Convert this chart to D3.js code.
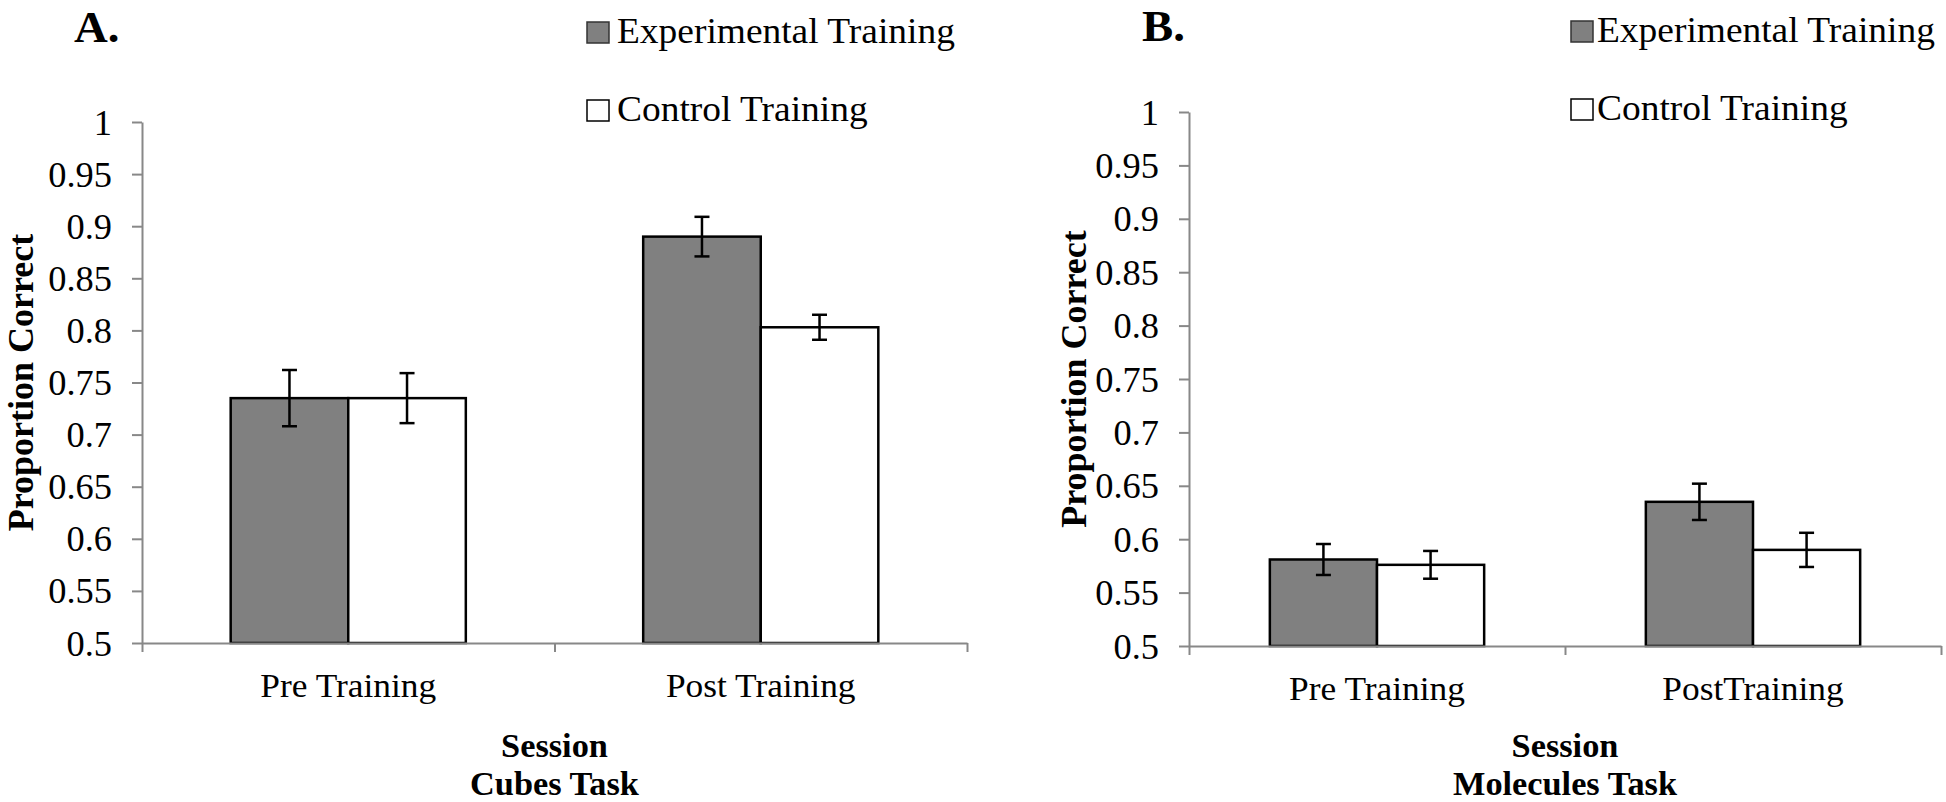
<!DOCTYPE html>
<html><head><meta charset="utf-8">
<script src="https://cdn.jsdelivr.net/npm/d3@7"></script>
<style>
body{margin:0;background:#fff}
text{font-family:"Liberation Serif","Times New Roman",serif;fill:#000}
</style>
</head><body>
<svg id="c" width="1946" height="802"></svg>
<script>
// ---------- data ----------
const sessionsA = ["Pre Training", "Post Training"];
const sessionsB = ["Pre Training", "PostTraining"];
const seriesNames = ["Experimental Training", "Control Training"];
const cubesExp = [0.735, 0.890];
const cubesCtrl = [0.735, 0.803];
const cubesExpErr = [0.027, 0.019];
const cubesCtrlErr = [0.024, 0.012];
const molExp = [0.581, 0.635];
const molCtrl = [0.576, 0.590];
const molExpErr = [0.0145, 0.017];
const molCtrlErr = [0.013, 0.016];
const yTickValues = [0.5, 0.55, 0.6, 0.65, 0.7, 0.75, 0.8, 0.85, 0.9, 0.95, 1];
const yTickLabels = ["0.5", "0.55", "0.6", "0.65", "0.7", "0.75", "0.8", "0.85", "0.9", "0.95", "1"];
const panelLetters = ["A.", "B."];
const xTitle = "Session";
const taskNames = ["Cubes Task", "Molecules Task"];
const yTitle = "Proportion Correct";
const seriesFill = ["#808080", "#ffffff"];

// ---------- layout ----------
const SX = 1.04;
const panels = [
  {cats: sessionsA, exp: cubesExp, ctrl: cubesCtrl, expErr: cubesExpErr, ctrlErr: cubesCtrlErr,
   letter: panelLetters[0], task: taskNames[0],
   x0: 142, x1: 967, yTop: 122, yBottom: 643, letterX: 74, letterY: 42,
   yTitleX: 33, legX: 587, legTextX: 617, legY: [43, 121]},
  {cats: sessionsB, exp: molExp, ctrl: molCtrl, expErr: molExpErr, ctrlErr: molCtrlErr,
   letter: panelLetters[1], task: taskNames[1],
   x0: 1189, x1: 1941, yTop: 112, yBottom: 646, letterX: 1142, letterY: 41,
   yTitleX: 1086, legX: 1571, legTextX: 1597, legY: [42, 120]}
];

const svg = d3.select("#c");

function stext(g, x, y, str, size, weight, anchor) {
  return g.append("text")
    .attr("transform", `translate(${x},${y}) scale(${SX},1)`)
    .attr("text-anchor", anchor || "start")
    .style("font-size", size + "px")
    .style("font-weight", weight || "normal")
    .text(str);
}

panels.forEach(p => {
  const g = svg.append("g");
  const y = d3.scaleLinear().domain([0.5, 1]).range([p.yBottom, p.yTop]);
  const x = d3.scaleBand().domain(p.cats).range([p.x0, p.x1]).paddingInner(0.43).paddingOuter(0.215);
  const xs = d3.scaleBand().domain([0, 1]).range([0, x.bandwidth()]);
  const xb = d3.scaleLinear().domain([0, p.cats.length]).range([p.x0, p.x1]);

  // bars
  const rows = [];
  p.cats.forEach((c, i) => {
    rows.push({c, s: 0, v: p.exp[i], e: p.expErr[i]});
    rows.push({c, s: 1, v: p.ctrl[i], e: p.ctrlErr[i]});
  });
  g.selectAll("rect.bar").data(rows).join("rect")
    .attr("class", "bar")
    .attr("x", d => x(d.c) + xs(d.s))
    .attr("y", d => y(d.v))
    .attr("width", xs.bandwidth())
    .attr("height", d => y(0.5) - y(d.v))
    .attr("fill", d => seriesFill[d.s])
    .attr("stroke", "#000")
    .attr("stroke-width", 2.5);

  // x axis (boundary ticks)
  const gxb = g.append("g").attr("transform", `translate(0,${p.yBottom})`)
    .call(d3.axisBottom(xb).tickValues(d3.range(p.cats.length + 1)).tickFormat("").tickSize(9).tickSizeOuter(0));
  gxb.select(".domain").attr("stroke", "#888").attr("stroke-width", 2);
  gxb.selectAll(".tick line").attr("stroke", "#888").attr("stroke-width", 2);

  // y axis
  const gy = g.append("g").attr("transform", `translate(${p.x0},0)`)
    .call(d3.axisLeft(y).tickValues(yTickValues).tickFormat((d, i) => yTickLabels[i]).tickSize(10).tickSizeOuter(0).tickPadding(20));
  gy.select(".domain").attr("stroke", "#888").attr("stroke-width", 2);
  gy.selectAll(".tick line").attr("stroke", "#888").attr("stroke-width", 2);
  gy.selectAll(".tick text").each(function() {
    const t = d3.select(this);
    const tx = +t.attr("x");
    t.attr("x", 0).attr("dy", null).attr("y", 12)
     .attr("transform", `translate(${tx},0) scale(${SX},1)`)
     .attr("fill", "#000").style("font-size", "35px");
  });
  gy.attr("font-family", null).attr("font-size", null);

  // category labels
  const gx = g.append("g").attr("transform", `translate(0,${p.yBottom})`)
    .call(d3.axisBottom(x).tickSize(0));
  gx.select(".domain").remove();
  gx.attr("font-family", null).attr("font-size", null);
  gx.selectAll(".tick text").each(function() {
    const t = d3.select(this);
    t.attr("y", 0).attr("dy", null)
     .attr("transform", `translate(0,54) scale(${SX},1)`)
     .attr("fill", "#000").style("font-size", "34px");
  });

  // error bars
  const eb = g.selectAll("g.err").data(rows).join("g").attr("class", "err");
  const cx = d => x(d.c) + xs(d.s) + xs.bandwidth() / 2;
  eb.append("line").attr("x1", cx).attr("x2", cx)
    .attr("y1", d => y(d.v + d.e)).attr("y2", d => y(d.v - d.e));
  eb.append("line").attr("x1", d => cx(d) - 7.5).attr("x2", d => cx(d) + 7.5)
    .attr("y1", d => y(d.v + d.e)).attr("y2", d => y(d.v + d.e));
  eb.append("line").attr("x1", d => cx(d) - 7.5).attr("x2", d => cx(d) + 7.5)
    .attr("y1", d => y(d.v - d.e)).attr("y2", d => y(d.v - d.e));
  eb.selectAll("line").attr("stroke", "#000").attr("stroke-width", 2.5);

  // titles
  const mid = (p.x0 + p.x1) / 2;
  stext(g, mid, 757, xTitle, 33, "bold", "middle");
  stext(g, mid, 795, p.task, 33, "bold", "middle");
  stext(g, p.letterX, p.letterY, p.letter, 45, "bold", "start");
  g.append("text")
    .attr("transform", `translate(${p.yTitleX},${(p.yTop + p.yBottom) / 2}) rotate(-90)`)
    .attr("text-anchor", "middle")
    .style("font-size", "36px").style("font-weight", "bold")
    .text(yTitle);

  // legend
  seriesNames.forEach((n, i) => {
    g.append("rect").attr("x", p.legX).attr("y", p.legY[i] - 21).attr("width", 22).attr("height", 21)
      .attr("fill", seriesFill[i]).attr("stroke", i === 0 ? "#333" : "#000").attr("stroke-width", 1.5);
    stext(g, p.legTextX, p.legY[i], n, 36, "normal", "start");
  });
});
</script>
</body></html>
